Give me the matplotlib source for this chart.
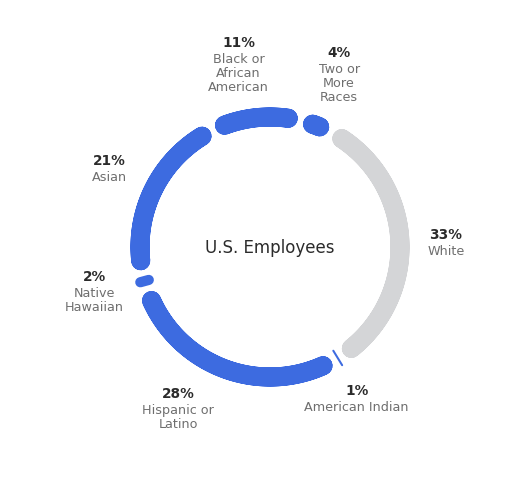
import numpy as np
import matplotlib.pyplot as plt
from matplotlib.patches import Polygon

# Data (clockwise from the top right)
categories = [
    "White",
    "American Indian",
    "Hispanic or\nLatino",
    "Native\nHawaiian",
    "Asian",
    "Black or\nAfrican\nAmerican",
    "Two or\nMore\nRaces",
]
shares = [33, 1, 28, 2, 21, 11, 4]
title = "U.S. Employees"

# Style / layout
BLUE = "#3d6be0"
GRAY = "#d4d5d7"
seg_colors = [GRAY, BLUE, BLUE, BLUE, BLUE, BLUE, BLUE]
# label nudges (degrees, px) relative to the segment middle
label_nudge = [(-1, -6), (-1.5, -8), (-9, 3), (-1, -1), (0, -3), (3.5, 4), (-1, 4)]

CX, CY = 270, 247          # centre, in pixels
R_MID, WIDTH = 130, 19     # ring radius and thickness
START = 62                 # degrees, start of first segment
PAD = 2.7                  # degrees between segments
R_LABEL = 182
PX2PT = 0.72


def rounded_sector(ax, hi, lo, color):
    """Annular sector from angle hi down to lo (deg) with round corners."""
    span = np.deg2rad(hi - lo) * R_MID
    rc = min(WIDTH / 2, span / 2)
    r_out = R_MID + WIDTH / 2 - rc
    r_in = R_MID - WIDTH / 2 + rc
    da = np.rad2deg(rc / R_MID)
    a1, a2 = lo + da, hi - da

    if a2 - a1 < 1e-3:
        # too narrow: a radial pill
        t = np.deg2rad((lo + hi) / 2)
        ax.plot(
            [CX + r_in * np.cos(t), CX + r_out * np.cos(t)],
            [CY - r_in * np.sin(t), CY - r_out * np.sin(t)],
            color=color,
            linewidth=2 * rc * PX2PT,
            solid_capstyle="round",
        )
        return

    t = np.deg2rad(np.linspace(a1, a2, 80))
    xs = np.concatenate([CX + r_out * np.cos(t), CX + r_in * np.cos(t[::-1])])
    ys = np.concatenate([CY - r_out * np.sin(t), CY - r_in * np.sin(t[::-1])])
    poly = Polygon(
        np.column_stack([xs, ys]),
        closed=True,
        facecolor=color,
        edgecolor=color,
        linewidth=2 * rc * PX2PT,
        joinstyle="round",
    )
    ax.add_patch(poly)


fig = plt.figure(figsize=(5.27, 4.92), dpi=100)
ax = fig.add_axes([0, 0, 1, 1])
ax.set_xlim(0, 527)
ax.set_ylim(492, 0)
ax.axis("off")

total = float(sum(shares))
angle = START
for cat, val, col, (dang, drad) in zip(categories, shares, seg_colors, label_nudge):
    sweep = 360 * val / total
    hi, lo = angle - PAD / 2, angle - sweep + PAD / 2
    rounded_sector(ax, hi, lo, col)

    # label block: percentage on top, name lines below
    mid = np.deg2rad(angle - sweep / 2 + dang)
    lx = CX + (R_LABEL + drad) * np.cos(mid)
    ly = CY - (R_LABEL + drad) * np.sin(mid)
    lines = cat.split("\n")
    height = 10 + 16 + 14 * (len(lines) - 1)
    top = ly - height / 2
    ax.text(lx, top + 10, f"{val}%", ha="center", va="baseline",
            fontsize=9.8, fontweight="semibold", color="#2b2b2b")
    for i, line in enumerate(lines):
        ax.text(lx, top + 26 + 14 * i, line, ha="center", va="baseline",
                fontsize=9.2, color="#6e6e6e")
    angle -= sweep

ax.text(CX, CY + 6, title, ha="center", va="baseline",
        fontsize=12, color="#2b2b2b")

fig.savefig("out.png", dpi=100)
plt.close(fig)
